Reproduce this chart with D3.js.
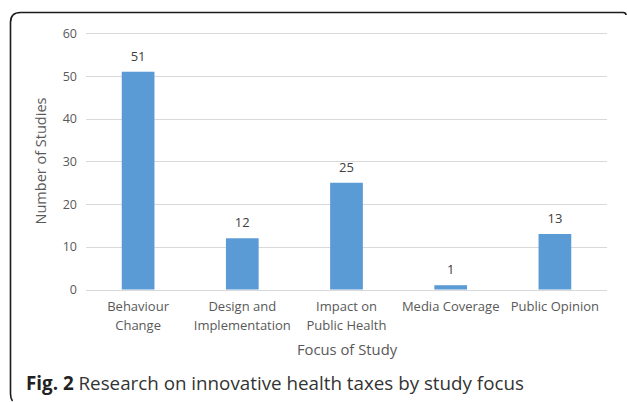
<!DOCTYPE html>
<html>
<head>
<meta charset="utf-8">
<script src="https://cdn.jsdelivr.net/npm/d3@7"></script>
<style>
  html, body { margin: 0; padding: 0; background: #fff; }
  svg { display: block; }
  text { font-family: "Open Sans", "Noto Sans", sans-serif; }
</style>
</head>
<body>
<svg id="chart" width="627" height="402"></svg>
<script>
// Study counts by focus area
const categories = [
  ["Behaviour", "Change"],
  ["Design and", "Implementation"],
  ["Impact on", "Public Health"],
  ["Media Coverage"],
  ["Public Opinion"]
];
const studies = [51, 12, 25, 1, 13];
const yTicks = [0, 10, 20, 30, 40, 50, 60];

const svg = d3.select("#chart");
const keys = categories.map(c => c.join(" "));

const x = d3.scaleBand()
  .domain(keys)
  .range([86, 607])
  .paddingInner(0.686)
  .paddingOuter(0.343);

const y = d3.scaleLinear()
  .domain([0, 60])
  .range([289.5, 33.3]);

// Frame: top and left edges with a rounded corner
svg.append("path")
  .attr("d", "M12.5,401 Q10.5,398 10.5,394 L10.5,22.5 Q10.5,12.5 20.5,12.5 L623,12.5 Q626,12.5 626,15")
  .attr("fill", "none")
  .attr("stroke", "#1a1a1a")
  .attr("stroke-width", 1.6);

// Gridlines
svg.append("g")
  .selectAll("line")
  .data(yTicks)
  .join("line")
  .attr("x1", 86).attr("x2", 607)
  .attr("y1", d => Math.round(y(d)) + 0.5)
  .attr("y2", d => Math.round(y(d)) + 0.5)
  .attr("stroke", "#d9d9d9")
  .attr("stroke-width", 1);

// Y axis labels
const yAxis = d3.axisLeft(y).tickValues(yTicks).tickSize(0).tickPadding(9);
const yg = svg.append("g").attr("transform", "translate(86,0)").call(yAxis);
yg.select(".domain").remove();
yg.selectAll("text")
  .attr("fill", "#595959")
  .style("font-size", "12.5px")
  .style("font-family", "'Open Sans', sans-serif");

// Bars
svg.append("g")
  .selectAll("rect")
  .data(studies)
  .join("rect")
  .attr("x", (d, i) => x(keys[i]))
  .attr("width", x.bandwidth())
  .attr("y", d => y(d))
  .attr("height", d => y(0) - y(d))
  .attr("fill", "#5b9bd5");

// Value labels
svg.append("g")
  .selectAll("text")
  .data(studies)
  .join("text")
  .attr("x", (d, i) => x(keys[i]) + x.bandwidth() / 2)
  .attr("y", d => y(d) - 11)
  .attr("text-anchor", "middle")
  .attr("fill", "#404040")
  .style("font-size", "13px")
  .text(d => d);

// Category labels
const cat = svg.append("g")
  .selectAll("text")
  .data(categories)
  .join("text")
  .attr("x", (d, i) => x(keys[i]) + x.bandwidth() / 2)
  .attr("y", 311)
  .attr("text-anchor", "middle")
  .attr("fill", "#595959")
  .style("font-size", "13px");
cat.selectAll("tspan")
  .data(d => d)
  .join("tspan")
  .attr("x", function () { return d3.select(this.parentNode).attr("x"); })
  .attr("dy", (d, j) => j === 0 ? 0 : 19)
  .text(d => d);

// Axis titles
svg.append("text")
  .attr("x", 347)
  .attr("y", 355)
  .attr("text-anchor", "middle")
  .attr("fill", "#595959")
  .style("font-size", "14.8px")
  .text("Focus of Study");

svg.append("text")
  .attr("transform", "translate(46,161) rotate(-90)")
  .attr("text-anchor", "middle")
  .attr("fill", "#595959")
  .style("font-size", "14.5px")
  .text("Number of Studies");

// Caption
const cap = svg.append("text")
  .attr("x", 26)
  .attr("y", 390)
  .attr("fill", "#333")
  .style("font-size", "18.8px");
cap.append("tspan").attr("font-weight", "bold").attr("fill", "#222").text("Fig. 2");
cap.append("tspan").text(" Research on innovative health taxes by study focus");
</script>
</body>
</html>
